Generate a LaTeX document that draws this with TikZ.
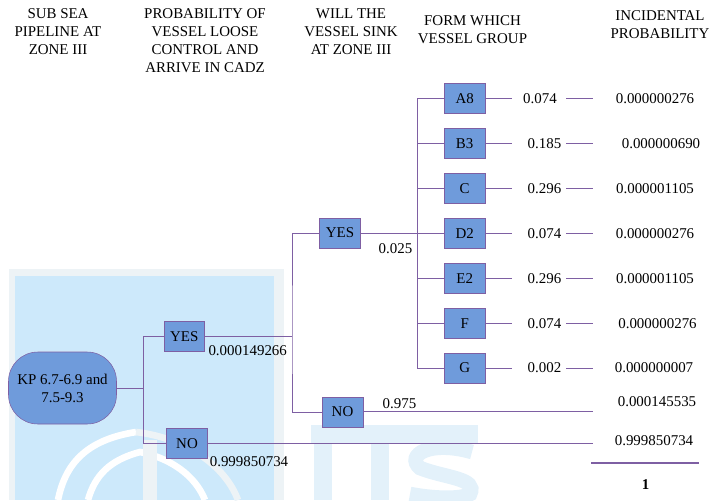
\documentclass[tikz,border=0pt]{standalone}
\usepackage{fontspec}
\setmainfont{Liberation Serif}
\usetikzlibrary{positioning}
\definecolor{boxblue}{HTML}{6F9BDB}
\definecolor{boxedge}{HTML}{7E5FA3}
\definecolor{wmblue}{HTML}{CDE9FB}
\definecolor{wmpale}{HTML}{E3F1FA}
\definecolor{wmgrey}{HTML}{EDF3F6}
\tikzset{
    choicebox/.style={rectangle, minimum width=30.5pt, minimum height=22.5pt, inner sep=0pt, align=center, draw=boxedge, fill=boxblue, font=\fontsize{11.2}{13.5}\selectfont},
    startbox/.style={rectangle, rounded corners=22pt, minimum width=81pt, minimum height=54pt, inner sep=0pt, align=center, draw=boxedge, fill=boxblue, font=\fontsize{11.2}{13.5}\selectfont},
    heading/.style={align=center, inner sep=0pt, font=\fontsize{11.2}{13.5}\selectfont},
    value/.style={inner sep=0pt, font=\fontsize{11.2}{13.5}\selectfont},
    branch/.style={draw=boxedge, line width=0.7pt}
}
\begin{document}
\begin{tikzpicture}[x=0.75pt, y=-0.75pt, node distance=10.8pt and 20pt]
    \useasboundingbox (0,0) rectangle (712,500);
    % watermark
    \fill[wmgrey] (9,269) rectangle (284,500);
    \fill[wmblue] (15,276) rectangle (274,500);
    \draw[white, line width=5pt] (58,500) .. controls (65,465) and (85,440) .. (136,432);
    \draw[wmgrey, line width=5pt] (136,432) .. controls (185,438) and (225,465) .. (238,500);
    \draw[white, line width=5pt] (88,500) .. controls (95,475) and (110,460) .. (140,452) .. controls (170,458) and (195,475) .. (205,500);
    \fill[wmgrey] (143,440) rectangle (157,500);
    \fill[wmpale] (311,425) rectangle (478,443);
    \fill[wmpale] (314,443) rectangle (332,500);
    \fill[wmpale] (371,443) rectangle (389,500);
    \draw[wmpale, line width=11pt] (472,452) .. controls (430,440) and (405,455) .. (420,468) .. controls (445,478) and (478,478) .. (470,494) .. controls (460,500) and (430,498) .. (410,494);

    % tree
    \node (root) [startbox] at (62.5,388) {KP 6.7-6.9 and\\7.5-9.3};
    \node (yesa) [choicebox] at (184.3,336.3) {YES};
    \node (noa) [choicebox] at (187,443.5) {NO};
    \node (yesb) [choicebox] at (340,233) {YES};
    \node (nob) [choicebox] at (342.5,412) {NO};

    \node (ga) [choicebox] at (464.7,98.5) {A8};
    \node (gb) [choicebox, below=of ga] {B3};
    \node (gc) [choicebox, below=of gb] {C};
    \node (gd) [choicebox, below=of gc] {D2};
    \node (ge) [choicebox, below=of gd] {E2};
    \node (gf) [choicebox, below=of ge] {F};
    \node (gg) [choicebox, below=of gf] {G};

    % junctions
    \coordinate (ja) at (143.7,388);
    \coordinate (jb) at (292,336.3);
    \coordinate (jc) at (417,233);

    \draw [branch] (root) -- (ja);
    \draw [branch] (yesa.west) -| (ja) |- (noa.west);
    \draw [branch] (yesa.east) -- (jb);
    \draw [branch] (yesb.west) -| (jb) |- (nob.west);
    \draw [branch] (yesb.east) -- (jc);
    \foreach \g in {ga,gb,gc,gd,ge,gf,gg} {
        \draw [branch] (\g.west) -| (jc);
        \draw [branch] (\g.east) -- (512,0 |- \g);
    }

    % probabilities and results
    \foreach \g/\p/\r/\px/\rx in {ga/0.074/0.000000276/540/655,gb/0.185/0.000000690/544.5/661,gc/0.296/0.000001105/544.5/655,gd/0.074/0.000000276/544.5/655,ge/0.296/0.000001105/544.5/655,gf/0.074/0.000000276/544.5/657.5,gg/0.002/0.000000007/544.5/654} {
        \node (\g p) [value] at (\px,0 |- \g) {\p};
        \node (\g r) [value] at (\rx,0 |- \g) {\r};
        \coordinate (\g s) at (566,0 |- \g);
        \coordinate (\g e) at (593,0 |- \g);
        \draw [branch] (\g s) -- (\g e);
    }

    \node (nobr) [value] at (657,402) {0.000145535};
    \node (noar) [value] at (654,440.7) {0.999850734};
    \coordinate (nobe) at (593,411.5);
    \coordinate (noae) at (593,443.7);
    \draw [branch] (nob.east |- nobe) -- (nobe);
    \draw [branch] (noa.east |- noae) -- (noae);

    \node (pa) [value] at (247.7,351) {0.000149266};
    \node (pb) [value] at (249,461.3) {0.999850734};
    \node (pc) [value] at (395.5,248.3) {0.025};
    \node (pd) [value] at (399.5,403.5) {0.975};

    % total
    \coordinate (suma) at (591,463);
    \coordinate (sumb) at (699,463);
    \draw [branch, line width=1.2pt] (suma) -- (sumb);
    \node (total) [value, font=\fontsize{11.2}{13.5}\selectfont\bfseries] at (645.7,485) {1};

    % headings
    \node (ha) [heading] at (58,32) {SUB SEA\\PIPELINE AT\\ZONE III};
    \node (hb) [heading] at (205,41) {PROBABILITY OF\\VESSEL LOOSE\\CONTROL AND\\ARRIVE IN CADZ};
    \node (hc) [heading] at (351,32) {WILL THE\\VESSEL SINK\\AT ZONE III};
    \node (hd) [heading] at (472.5,30) {FORM WHICH\\VESSEL GROUP};
    \node (he) [heading] at (660,25) {INCIDENTAL\\PROBABILITY};
\end{tikzpicture}
\end{document}
